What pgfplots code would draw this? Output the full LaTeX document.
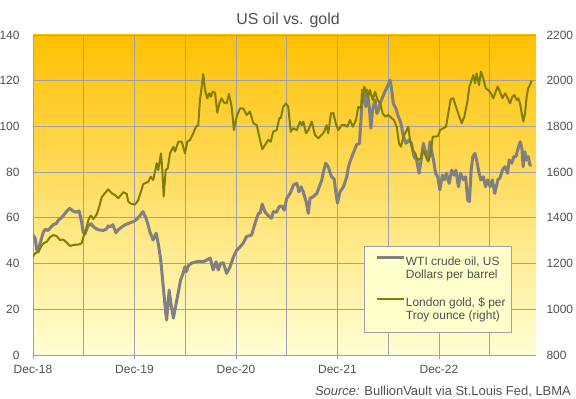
\documentclass[border=0pt]{standalone}
\usepackage{fontspec}
\setmainfont{Liberation Sans}
\usepackage{pgfplots}
\usepackage{pgfplotstable}
\pgfplotsset{compat=1.18}
\pgfplotsset{longline/.style={legend image code/.code={\draw[##1] (0bp,4bp) -- (27bp,4bp);}}}
\definecolor{oilc}{RGB}{128,128,128}
\definecolor{goldc}{RGB}{128,128,0}
\definecolor{gridc}{RGB}{160,160,170}
\definecolor{txt}{RGB}{80,80,80}
\definecolor{bgtop}{RGB}{255,192,0}
\definecolor{bgmid}{RGB}{255,244,130}
\definecolor{bgbot}{RGB}{255,255,212}
\definecolor{legfill}{RGB}{255,255,204}

\pgfplotstableread{
m v
0 52.5
0.25 51
0.45 46
0.65 45.5
0.85 49
1.2 53.5
1.45 55
1.8 54.5
2.0 55.5
2.4 57
2.75 57.5
3.0 59
3.35 60
3.7 61.5
4.0 63
4.35 64.2
4.7 63
5.1 62.5
5.45 63
5.7 59
5.95 53.5
6.15 53
6.5 56.5
6.85 57.5
7.2 56
7.55 55
7.9 54.7
8.3 54.5
8.65 55
8.9 56.5
9.1 56
9.45 57
9.8 53.5
10.15 55
10.5 56
10.9 57
11.25 57.5
11.6 58
11.95 58.5
12.3 59.5
12.65 61
13.0 62.7
13.35 60
13.6 57
13.85 53.5
14.05 51.8
14.2 50.3
14.55 53.3
14.8 49
15.1 41.6
15.4 29.9
15.7 18.3
15.8 15.3
16.1 28.4
16.3 22.7
16.6 16.1
17.0 24
17.45 32.8
17.75 35.8
17.95 38.5
18.15 36.5
18.35 39
18.75 40.2
19.35 40.8
19.75 41
20.15 40.8
20.55 41.6
20.95 42.4
21.3 37.2
21.65 40.8
21.9 37.2
22.2 40.1
22.5 40.4
22.9 35.7
23.3 38.6
23.7 43
24.1 45.9
24.5 47.4
24.85 48.9
25.25 51.8
25.85 52.5
26.25 57.6
26.65 62
26.85 62
27.1 66
27.45 62.5
27.8 61
28.2 59.8
28.4 62.7
28.8 62.5
29.1 64.9
29.4 65.2
29.7 63.4
30.0 68.5
30.4 70.7
30.8 74.4
31.2 75.1
31.45 71.4
31.7 73.6
31.95 71.4
32.3 67
32.55 62
32.75 68.5
33.15 69.3
33.55 70.7
33.85 73.6
34.15 76.6
34.3 79.5
34.6 83.9
34.9 82.4
35.3 78
35.6 77
35.8 71.4
36.0 66.4
36.3 71.4
36.7 73.6
37.1 78
37.3 82.4
37.55 85.3
37.85 88.2
38.25 91.9
38.6 92.6
38.8 104.3
38.95 115.9
39.15 113
39.35 108.6
39.5 115.9
39.75 108.6
39.95 99.2
40.15 107.2
40.45 111.6
40.65 105.7
40.85 107.2
41.05 110.1
41.35 113
41.6 115.2
41.9 117.4
42.2 120.3
42.35 117.4
42.6 110.1
42.9 107.9
43.2 104.3
43.5 101.4
43.8 95.5
44.1 92.6
44.45 94
44.75 92.6
45.05 86.8
45.35 85.3
45.65 79.5
45.95 86.8
46.15 92.6
46.45 88.2
46.65 85.3
46.95 93.3
47.15 88.9
47.35 85.3
47.6 79.5
47.85 78
48.1 72.2
48.4 78.7
48.65 76.6
48.9 79.5
49.2 75.1
49.5 80.9
49.8 78.7
50.0 80.9
50.3 73.6
50.55 79.5
50.9 76.6
51.15 78
51.4 67.8
51.6 67.1
51.8 80.9
52.0 86.8
52.25 88.2
52.45 85.3
52.75 79.5
52.95 76.6
53.25 78
53.5 73.6
53.75 76.6
54.05 73.6
54.3 76.6
54.6 70.7
54.95 76.6
55.2 77.3
55.5 80.9
55.8 82.4
56.1 79.5
56.3 85.3
56.6 83.9
56.85 86.8
57.1 86.8
57.3 89.7
57.6 93.3
57.8 90.4
57.95 82.4
58.15 88.9
58.35 85.3
58.55 86.8
58.75 83.1
58.95 83.1
}\oildata

\pgfplotstableread{
m v
0 1230
0.24 1245
0.63 1250
1.03 1280
1.3 1290
1.62 1295
2.01 1315
2.4 1325
2.8 1320
3.19 1303
3.58 1305
3.98 1292
4.37 1277
4.85 1282
5.36 1283
5.76 1289
5.95 1315
6.27 1350
6.54 1390
6.82 1410
7.13 1395
7.53 1415
7.8 1445
8.12 1490
8.51 1508
8.9 1525
9.3 1508
9.69 1500
10.09 1486
10.4 1500
10.68 1512
11.08 1505
11.27 1471
11.59 1462
12.06 1458
12.45 1478
13.04 1548
13.63 1558
13.92 1580
14.22 1566
14.63 1639
14.81 1609
15.13 1682
15.29 1609
15.45 1493
15.69 1609
15.93 1617
16.2 1682
16.59 1711
16.79 1690
17.18 1733
17.58 1733
17.97 1682
18.24 1733
18.56 1741
18.95 1770
19.27 1799
19.54 1806
19.74 1916
19.95 1974
20.13 2029
20.34 1959
20.61 1923
20.84 1945
21.04 1930
21.25 1952
21.52 1947
21.79 1860
22.03 1901
22.31 1923
22.58 1904
22.9 1901
23.17 1942
23.49 1886
23.76 1784
24.08 1843
24.47 1879
24.86 1879
25.27 1850
25.66 1865
26.05 1814
26.45 1806
26.84 1741
27.11 1700
27.43 1719
27.82 1741
28.1 1733
28.41 1777
28.81 1784
29.12 1836
29.29 1836
29.59 1886
29.91 1901
30.18 1886
30.47 1777
30.78 1792
31.18 1784
31.57 1821
31.77 1806
31.96 1821
32.28 1770
32.55 1784
32.95 1821
33.34 1763
33.73 1748
34.13 1763
34.44 1777
34.72 1806
34.91 1770
35.23 1857
35.5 1860
35.82 1810
36.09 1784
36.5 1806
36.89 1806
37.16 1799
37.48 1828
37.8 1799
38.19 1828
38.46 1886
38.74 1879
38.98 1930
39.17 1974
39.45 1945
39.64 1930
39.84 1959
40.16 1916
40.44 1952
40.75 1916
41.03 1901
41.35 1857
41.62 1843
42.01 1850
42.41 1836
42.68 1828
43.0 1799
43.27 1726
43.51 1711
43.78 1755
44.1 1777
44.37 1799
44.57 1741
44.89 1697
45.2 1682
45.48 1653
45.84 1660
46.14 1697
46.46 1668
46.73 1646
47.02 1682
47.26 1755
47.65 1755
47.92 1760
48.12 1784
48.51 1792
48.83 1799
49.1 1857
49.38 1919
49.69 1923
50.01 1886
50.4 1843
50.69 1814
51.0 1843
51.36 1908
51.59 1974
51.87 2003
52.06 2025
52.26 1989
52.46 2032
52.73 1981
52.97 2040
53.24 2010
53.52 1967
53.83 1959
54.15 1945
54.42 1923
54.71 1952
54.94 1974
55.21 1952
55.49 1923
55.81 1945
56.13 1923
56.4 1901
56.67 1930
56.91 1937
57.19 1916
57.38 1923
57.58 1901
57.78 1857
57.97 1821
58.17 1857
58.36 1930
58.55 1967
58.75 1981
58.95 2000
}\golddata

\begin{document}
\begin{tikzpicture}
\pgfplotsset{
  common/.style={
    scale only axis, width=503bp, height=320bp,
    xmin=0, xmax=59.47,
    /pgf/number format/assume math mode=true,
    /pgf/number format/1000 sep={},
    tick label style={font=\fontsize{12}{14}\selectfont, text=txt},
  }
}
\begin{axis}[common,
  ymin=0, ymax=140,
  axis background/.style={top color=bgtop, middle color=bgmid, bottom color=bgbot},
  axis x line*=bottom, axis y line*=left,
  axis line style={gridc, line width=0.8bp},
  xtick={0,12,24,36,48},
  xticklabels={Dec-18,Dec-19,Dec-20,Dec-21,Dec-22},
  minor xtick={6,18,30,42,54},
  ytick={0,20,...,140},
  xmajorgrids, xminorgrids, ymajorgrids,
  grid style={gridc, line width=0.8bp},
  minor grid style={gridc, line width=0.8bp},
  tick align=outside,
  major tick length=4bp, minor tick length=0pt,
  xtick style={gridc, line width=0.8bp},
  ytick style={draw=none},
  yticklabel style={xshift=-6bp},
  xticklabel style={yshift=-3bp},
]
\addplot[oilc, line width=3bp, line join=round] table {\oildata};
\end{axis}
\begin{axis}[common,
  ymin=800, ymax=2200,
  axis y line*=right, axis x line=none,
  axis line style={draw=none},
  ytick={800,1000,...,2200},
  ytick style={draw=none},
  yticklabel style={xshift=7bp},
  legend style={at={(0.680,0.3097)}, anchor=north west,
    fill=none, draw=none,
    font=\fontsize{12}{13}\selectfont, text=txt,
    row sep=30.3bp, inner xsep=0pt, inner ysep=0pt,
    nodes={inner xsep=0.5bp, inner ysep=0pt}},
  legend cell align=left,
]
\draw[fill=legfill, draw=gridc, line width=0.8bp] (rel axis cs:0.658,0.0709) rectangle (rel axis cs:0.952,0.3384);
\addlegendimage{oilc, line width=3.2bp, longline}
\addlegendentry{\begin{tabular}[t]{@{}l@{}}WTI crude oil, US\\Dollars per barrel\end{tabular}}
\addplot[goldc, line width=2bp, line join=round, longline] table {\golddata};
\addlegendentry{\begin{tabular}[t]{@{}l@{}}London gold, \$ per\\Troy ounce (right)\end{tabular}}
\end{axis}
\node[anchor=base, font=\fontsize{16}{19}\selectfont, text=txt] at (255bp,330bp) {US oil vs. gold};
\node[anchor=base east, font=\fontsize{13}{15}\selectfont, text=txt, inner sep=0pt] at (538bp,-40bp) {\textit{Source:} BullionVault via St.Louis Fed, LBMA};
\pgfresetboundingbox
\useasboundingbox (-33bp,-44bp) rectangle (543bp,355bp);
\end{tikzpicture}
\end{document}
